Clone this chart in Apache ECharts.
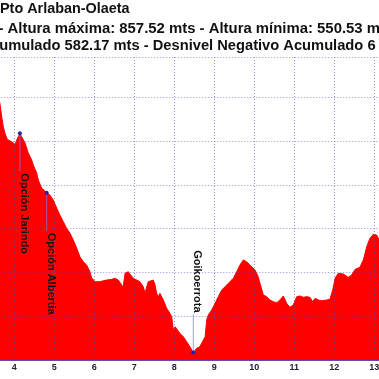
<!DOCTYPE html>
<html>
<head>
<meta charset="utf-8">
<script src="https://cdn.jsdelivr.net/npm/echarts@6/dist/echarts.min.js"></script>
<style>html,body{margin:0;padding:0;background:#fff;}#c{width:379px;height:379px;}</style>
</head>
<body>
<div id="c"></div>
<script>
// Distance (km) along the route
const kmValues = [3.57,3.64,3.685,3.725,3.767,3.81,3.85,3.935,4.02,4.06,4.10,4.14,4.185,4.27,4.35,4.435,4.475,4.56,4.60,4.685,4.725,4.81,4.89,4.975,5.06,5.14,5.225,5.31,5.39,5.475,5.56,5.64,5.725,5.81,5.89,5.935,6.02,6.14,6.225,6.31,6.435,6.52,6.60,6.685,6.72,6.77,6.85,6.89,6.975,7.06,7.14,7.225,7.27,7.31,7.35,7.39,7.475,7.52,7.56,7.60,7.64,7.685,7.725,7.81,7.89,7.935,7.975,8.02,8.06,8.14,8.225,8.31,8.39,8.475,8.56,8.64,8.685,8.77,8.81,8.85,8.935,9.02,9.10,9.185,9.31,9.39,9.475,9.56,9.64,9.725,9.81,9.89,10.02,10.09,10.14,10.225,10.31,10.39,10.475,10.56,10.64,10.725,10.81,10.89,10.975,11.06,11.14,11.225,11.31,11.39,11.46,11.52,11.60,11.685,11.81,11.89,11.96,12.02,12.10,12.225,12.35,12.435,12.52,12.64,12.725,12.81,12.89,12.975,13.06,13.12,13.22];
// Elevation (m)
const elevValues = [850.2,835.0,819.7,808.3,801.1,795.4,793.1,791.2,788.2,793.1,796.9,800.8,796.9,789.7,778.3,770.3,764.6,755.5,747.5,738.3,736.1,733.0,730.4,724.6,715.5,707.5,699.9,692.3,687.0,679.0,669.9,659.9,654.2,650.4,642.8,635.6,631.4,631.4,632.5,633.3,634.1,635.3,633.3,627.6,625.3,641.0,642.8,640.2,635.3,633.3,631.4,625.7,618.1,625.7,631.4,632.5,633.3,627.6,618.1,614.3,618.1,616.2,610.5,601.0,595.3,591.4,576.2,580.0,578.2,572.5,568.6,562.9,557.2,550.53,555.4,557.2,559.1,568.6,587.7,593.4,599.1,606.7,614.3,621.9,627.6,631.4,635.3,642.8,650.4,656.2,654.2,650.4,644.7,637.9,629.9,616.2,614.3,610.5,608.6,607.4,610.5,615.1,606.7,602.2,604.8,614.3,615.1,613.6,614.3,613.6,608.6,612.4,610.5,609.7,610.5,611.3,621.9,635.3,641.0,640.2,636.4,639.0,645.5,647.8,656.2,671.3,680.9,685.5,684.7,679.0,672.1];

// Waypoints
const markerNames = ["Opción Jarindo", "Opción Albertia", "Goikoerrota"];
const markerKm = [4.14, 4.81, 8.475];
const markerElev = [800.8, 733.0, 550.53];
const markerDir = [1, 1, -1]; // 1: label below the point, -1: label above

// Title lines
const titleLine1 = "Pto Arlaban-Olaeta";
const titleLine2 = "- Altura máxima: 857.52 mts - Altura mínima: 550.53 mts";
const titleLine3 = "Desnivel Positivo Acumulado 582.17 mts - Desnivel Negativo Acumulado 6";

const chart = echarts.init(document.getElementById('c'), null, {renderer: 'canvas'});
const font = '"Liberation Sans", Arial, sans-serif';
const gridColor = 'rgba(70,70,200,0.6)';

chart.setOption({
  animation: false,
  backgroundColor: '#ffffff',
  graphic: [
    {type: 'text', x: 0, y: 2.5, style: {text: titleLine1, font: 'bold 14.4px ' + font, fill: '#111', align: 'left', verticalAlign: 'top'}},
    {type: 'text', x: -1.5, y: 21, style: {text: titleLine2, font: 'bold 14.9px ' + font, fill: '#111', align: 'left', verticalAlign: 'top'}},
    {type: 'text', x: -145.2, y: 38, style: {text: titleLine3, font: 'bold 14.7px ' + font, fill: '#111', align: 'left', verticalAlign: 'top'}}
  ],
  grid: {left: -25.7, right: -35.3, top: 57, bottom: 19, containLabel: false, outerBoundsMode: 'none'},
  xAxis: {
    type: 'value', min: 3, max: 14, interval: 1, z: 3,
    axisLine: {show: true, lineStyle: {color: '#5a4cc0', width: 1}},
    axisTick: {show: false},
    axisLabel: {show: true, margin: 3, fontSize: 9, fontWeight: 'bold', fontFamily: font, color: '#22223a', hideOverlap: false},
    splitLine: {show: true, lineStyle: {color: gridColor, width: 1, type: [1, 2]}}
  },
  yAxis: [
    {type: 'value', min: 542, max: 888, show: true,
      axisLine: {show: false}, axisTick: {show: false}, axisLabel: {show: false}, splitLine: {show: false}},
    {type: 'value', min: 0, max: 346, interval: 50, z: 3, position: 'left',
      axisLine: {show: false}, axisTick: {show: false}, axisLabel: {show: false},
      splitLine: {show: true, lineStyle: {color: gridColor, width: 1, type: [1, 2]}}}
  ],
  series: [
    {
      type: 'line', yAxisIndex: 0, z: 2,
      data: kmValues.map((k, i) => [k, elevValues[i]]),
      symbol: 'none', smooth: false,
      lineStyle: {color: '#ff0000', width: 1},
      areaStyle: {color: '#ff0000', opacity: 1}
    },
    {
      type: 'custom', yAxisIndex: 0, z: 5,
      data: markerKm.map((k, i) => [k, markerElev[i], markerDir[i]]),
      renderItem: function (params, api) {
        const p = api.coord([api.value(0), api.value(1)]);
        const dir = api.value(2);
        const name = markerNames[params.dataIndex];
        return {
          type: 'group',
          children: [
            {type: 'line', shape: {x1: p[0], y1: p[1], x2: p[0], y2: p[1] + dir * 38}, style: {stroke: 'rgba(120,120,230,0.75)', lineWidth: 1}},
            {type: 'circle', shape: {cx: p[0], cy: p[1], r: 2}, style: {fill: '#2424a0'}},
            {type: 'text', x: p[0] + 4, y: p[1] + dir * 40, rotation: -Math.PI / 2,
              style: {text: name, font: 'bold 11px ' + font, fill: '#111', align: dir > 0 ? 'left' : 'right', verticalAlign: 'middle'}}
          ]
        };
      }
    }
  ]
});
</script>
</body>
</html>
